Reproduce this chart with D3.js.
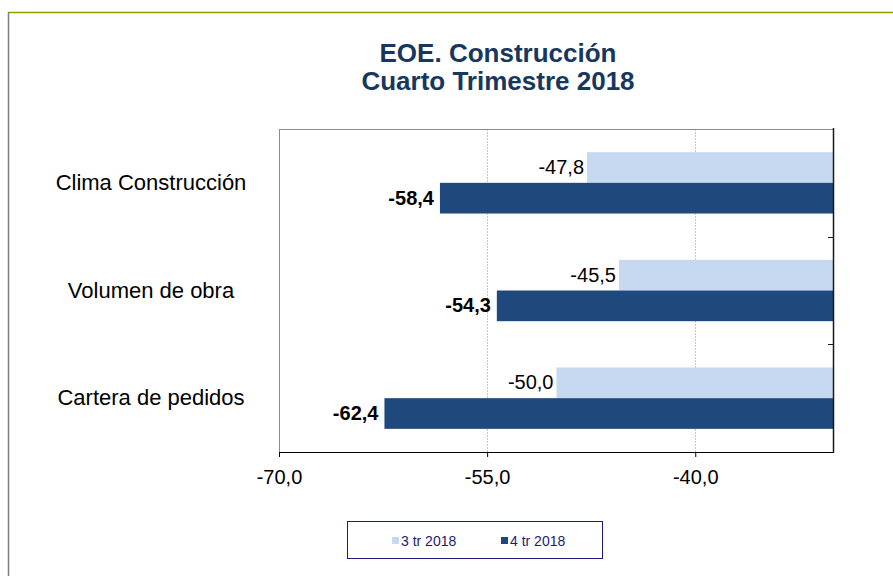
<!DOCTYPE html>
<html>
<head>
<meta charset="utf-8">
<script src="https://d3js.org/d3.v7.min.js"></script>
<style>
	body { margin: 0; background: #ffffff; }
	text { font-family: Arial, "Liberation Sans", sans-serif; }
</style>
</head>
<body>
<div class="main"></div>
<script>
//data
var categories = ["Clima Construcción", "Volumen de obra", "Cartera de pedidos"];
var seriesNames = ["3 tr 2018", "4 tr 2018"];
var values3tr = [-47.8, -45.5, -50.0];
var values4tr = [-58.4, -54.3, -62.4];
var xTicks = [-70, -55, -40];
var titleLines = ["EOE. Construcción", "Cuarto Trimestre 2018"];

//canvas config
var width = 893;
var height = 576;
var plot = {left: 279, right: 834, top: 129, bottom: 452};

var colors = ["#c6d9f1", "#1f497d"];
var navy = "#17375e";

//comma decimal and plain hyphen minus, like the spanish original
var esLocale = d3.formatLocale({decimal: ",", thousands: ".", grouping: [3], currency: ["", " €"], minus: "-"});
var fmt = esLocale.format(".1f");

var svg = d3.select(".main")
	.append("svg")
	.attr("width", width)
	.attr("height", height);

svg.append("rect")
	.attr("width", width)
	.attr("height", height)
	.style("fill", "#ffffff");

//outer chart border (top olive, left gray)
svg.append("line")
	.attr("x1", 8).attr("x2", width)
	.attr("y1", 12.5).attr("y2", 12.5)
	.style("stroke", "#999900")
	.style("stroke-width", 1.5);
svg.append("line")
	.attr("x1", 8.5).attr("x2", 8.5)
	.attr("y1", 12).attr("y2", height)
	.style("stroke", "#7f7f7f")
	.style("stroke-width", 1.5);

//title
svg.append("g")
	.selectAll("text")
	.data(titleLines)
	.enter()
	.append("text")
	.attr("x", 498)
	.attr("y", function(d, i) { return 61.5 + i * 28; })
	.attr("text-anchor", "middle")
	.style("font-size", "26px")
	.style("font-weight", "bold")
	.style("fill", navy)
	.text(function(d) { return d; });

//scales
var xScale = d3.scaleLinear()
	.domain([-70, -30])
	.range([plot.left, plot.right]);
var yScale = d3.scaleBand()
	.domain(categories)
	.range([plot.top, plot.bottom])
	.paddingInner(0.43)
	.paddingOuter(0.215);
var ySub = d3.scaleBand()
	.domain(seriesNames)
	.range([0, yScale.bandwidth()]);

var rows = categories.map(function(c, i) {
	return {cat: c, vals: [values3tr[i], values4tr[i]]};
});

//gridlines
svg.append("g")
	.attr("class", "grid")
	.selectAll("line")
	.data(xTicks.filter(function(t) { return t > -70; }))
	.enter()
	.append("line")
	.attr("x1", function(d) { return Math.round(xScale(d)) + 0.5; })
	.attr("x2", function(d) { return Math.round(xScale(d)) + 0.5; })
	.attr("y1", plot.top)
	.attr("y2", plot.bottom)
	.style("stroke", "#c8c8c8")
	.style("stroke-dasharray", "2,1");

//plot border top / left
svg.append("line")
	.attr("x1", plot.left).attr("x2", plot.right)
	.attr("y1", plot.top + 0.5).attr("y2", plot.top + 0.5)
	.style("stroke", "#8c8c8c");
svg.append("line")
	.attr("x1", plot.left + 0.5).attr("x2", plot.left + 0.5)
	.attr("y1", plot.top).attr("y2", plot.bottom)
	.style("stroke", "#8c8c8c");

//bars (they start at the right end of the axis, -30)
var groups = svg.append("g")
	.attr("class", "bars")
	.selectAll("g")
	.data(rows)
	.enter()
	.append("g")
	.attr("transform", function(d) { return "translate(0," + yScale(d.cat) + ")"; });

groups.selectAll("rect")
	.data(function(d) { return d.vals; })
	.enter()
	.append("rect")
	.attr("x", function(d) { return xScale(d); })
	.attr("y", function(d, i) { return ySub(seriesNames[i]); })
	.attr("width", function(d) { return xScale(-30) - xScale(d); })
	.attr("height", ySub.bandwidth())
	.style("fill", function(d, i) { return colors[i]; });

//data labels
groups.selectAll("text")
	.data(function(d) { return d.vals; })
	.enter()
	.append("text")
	.attr("x", function(d, i) { return xScale(d) - (i == 0 ? 3 : 6); })
	.attr("y", function(d, i) { return ySub(seriesNames[i]) + ySub.bandwidth() / 2; })
	.attr("dy", "0.33em")
	.attr("text-anchor", "end")
	.style("font-size", "20px")
	.style("font-weight", function(d, i) { return i == 1 ? "bold" : "normal"; })
	.style("fill", "#000000")
	.text(function(d) { return fmt(d); });

//x axis
var xAxis = d3.axisBottom(xScale)
	.tickValues(xTicks)
	.tickSize(5)
	.tickPadding(13)
	.tickFormat(fmt);
var gx = svg.append("g")
	.attr("class", "x-axis")
	.attr("transform", "translate(0," + plot.bottom + ")")
	.call(xAxis);
gx.select(".domain").attr("d", "M" + plot.left + ",0.5H" + plot.right).style("stroke", "#000");
gx.selectAll(".tick line").style("stroke", "#000");
gx.selectAll("text")
	.style("font-size", "20px")
	.style("font-family", "Arial, 'Liberation Sans', sans-serif")
	.style("fill", "#000");

//category axis on the right side, ticks pointing inward between categories
svg.append("line")
	.attr("x1", plot.right - 0.5).attr("x2", plot.right - 0.5)
	.attr("y1", plot.top - 1).attr("y2", plot.bottom + 1)
	.style("stroke", "#1a1a1a")
	.style("stroke-width", 1.5);
svg.append("g")
	.selectAll("line")
	.data(categories.slice(1))
	.enter()
	.append("line")
	.attr("x1", plot.right - 6).attr("x2", plot.right)
	.attr("y1", function(d) { return Math.round(yScale(d) - yScale.step() * yScale.paddingInner() / 2) + 0.5; })
	.attr("y2", function(d) { return Math.round(yScale(d) - yScale.step() * yScale.paddingInner() / 2) + 0.5; })
	.style("stroke", "#1a1a1a");

//category labels
svg.append("g")
	.attr("class", "cat-labels")
	.selectAll("text")
	.data(categories)
	.enter()
	.append("text")
	.attr("x", 151)
	.attr("y", function(d) { return yScale(d) + yScale.bandwidth() / 2; })
	.attr("dy", "0.32em")
	.attr("text-anchor", "middle")
	.style("font-size", "22px")
	.style("fill", "#000")
	.text(function(d) { return d; });

//legend
var legend = svg.append("g").attr("class", "legend");
legend.append("rect")
	.attr("x", 347.5).attr("y", 521.5)
	.attr("width", 255).attr("height", 37)
	.style("fill", "#fff")
	.style("stroke", "#1c1c80");
var legendX = [392, 501];
var items = legend.selectAll("g")
	.data(seriesNames)
	.enter()
	.append("g")
	.attr("transform", function(d, i) { return "translate(" + legendX[i] + ",537)"; });
items.append("rect")
	.attr("width", 7)
	.attr("height", 7)
	.style("fill", function(d, i) { return colors[i]; });
items.append("text")
	.attr("x", 9)
	.attr("y", 8.5)
	.style("font-size", "14px")
	.style("fill", "#1c1c6e")
	.text(function(d) { return d; });
</script>
</body>
</html>
